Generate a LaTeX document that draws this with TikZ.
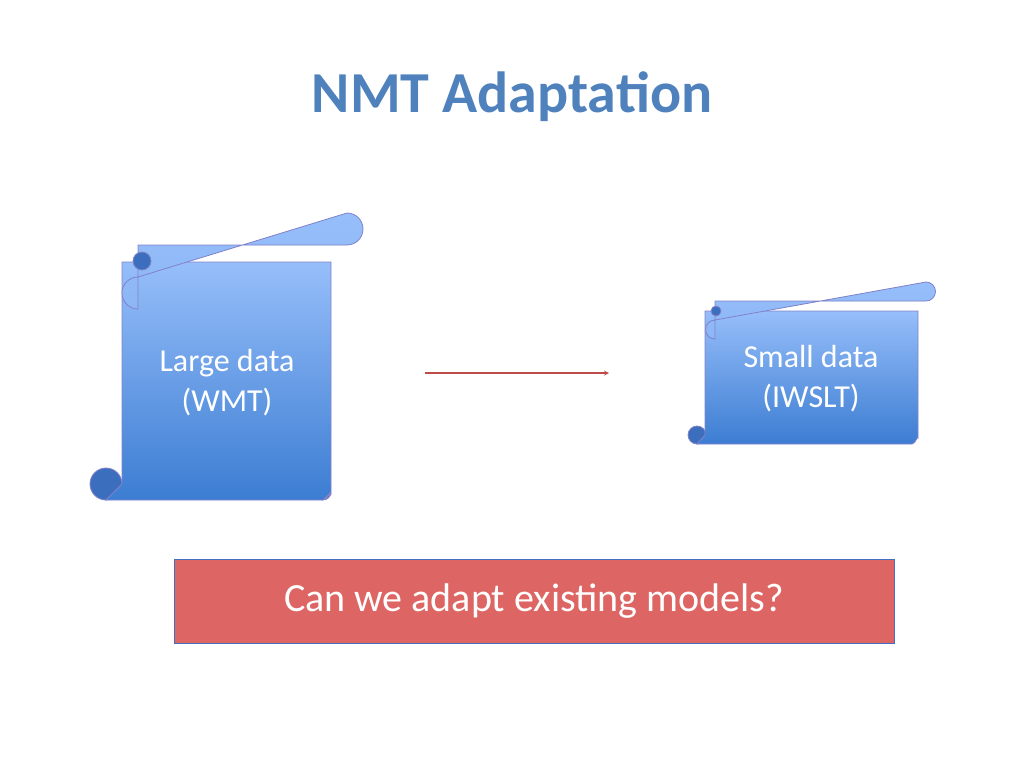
\documentclass[tikz,border=0pt]{standalone}
\usepackage{fontspec}
\setmainfont{Carlito}
\begin{document}
\begin{tikzpicture}[x=1pt,y=-1pt,
  roll/.style={draw=blue!40!gray!70, line width=0.8pt, fill=blue!45!cyan!40!white, top color={rgb,255:red,150;green,190;blue,250}, bottom color={rgb,255:red,140;green,182;blue,245}},
  body/.style={draw=blue!40!gray!70, line width=0.8pt, top color={rgb,255:red,150;green,190;blue,250}, bottom color={rgb,255:red,60;green,125;blue,210}},
  curl/.style={draw=blue!40!gray!70, line width=0.8pt, fill={rgb,255:red,60;green,110;blue,190}},
  lbl/.style={text=white, font=\fontsize{32}{40}\selectfont, align=center}]
\useasboundingbox (0,0) rectangle (1024,768);
\definecolor{tblue}{RGB}{79,129,189}
\node[text=tblue, font=\fontsize{58}{60}\selectfont\bfseries] (title) at (512,97) {NMT Adaptation};
% large scroll
\draw[curl] (106,484) circle (16);
\draw[body] (122,262) -- (331,262) -- (331,492) arc (0:90:8) -- (331,492) -- (331,494) to[out=90,in=0] (323,500) -- (106,500) arc (90:270:-0) -- (122,484) -- cycle;
\draw[roll] (138,245) -- (347,245) arc (90:-90:16) -- (138,277) arc (-90:-270:16) -- cycle;
\draw[curl] (142,261) circle (9);
\node[lbl] (large) at (227,383) {Large data\\(WMT)};
% small scroll
\draw[curl] (697,435) circle (9);
\draw[body] (705,311) -- (918,311) -- (918,438) to[out=90,in=0] (912,444) -- (697,444) -- (705,435) -- cycle;
\draw[roll] (715,301) -- (926,301) arc (90:-90:9.5) -- (715,320) arc (-90:-270:9.5) -- cycle;
\draw[curl] (716,311) circle (5);
\node[lbl] (small) at (811,379) {Small data\\(IWSLT)};
% arrow
\coordinate (a1) at (425,373);
\coordinate (a2) at (609,373);
\draw[-stealth, line width=1.2pt, color={rgb,255:red,190;green,75;blue,72}] (a1) -- (a2);
% question
\node[draw={rgb,255:red,70;green,110;blue,190}, line width=0.8pt, fill={rgb,255:red,221;green,102;blue,100}, minimum width=720pt, minimum height=84pt, text=white, font=\fontsize{40}{48}\selectfont] (q) at (534,601) {Can we adapt existing models?};
\end{tikzpicture}
\end{document}
